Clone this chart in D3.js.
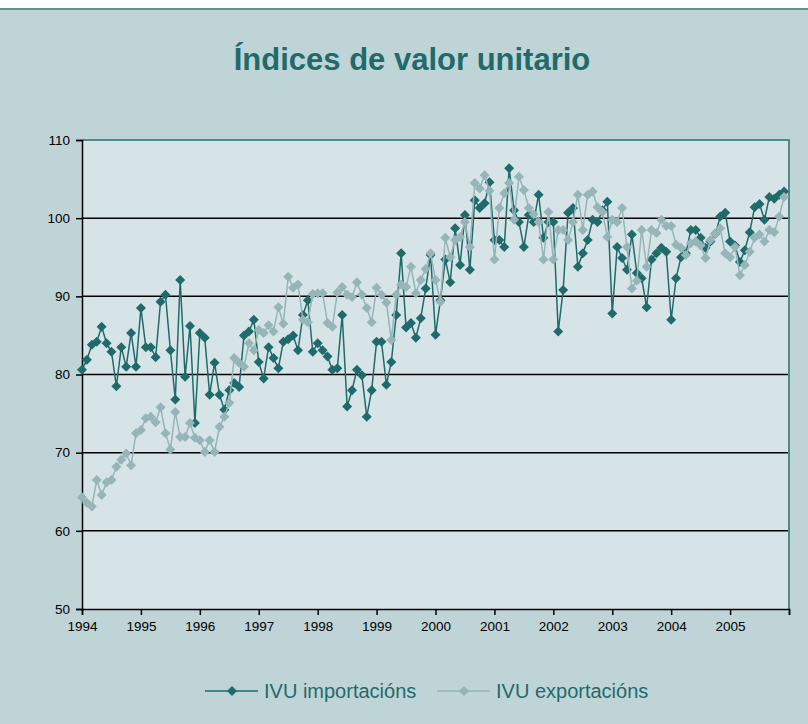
<!DOCTYPE html>
<html>
<head>
<meta charset="utf-8">
<script src="https://cdn.jsdelivr.net/npm/d3@7"></script>
<style>
  body { margin: 0; background: #ffffff; }
  svg { display: block; font-family: "Liberation Sans", Arial, sans-serif; }
</style>
</head>
<body>
<svg width="808" height="724"></svg>
<script>
// monthly values, Jan 1994 .. Dec 2005
var years = ["1994", "1995", "1996", "1997", "1998", "1999", "2000", "2001", "2002", "2003", "2004", "2005"];
var yTicks = [50, 60, 70, 80, 90, 100, 110];

var importacions = [
  80.6, 81.9, 83.8, 84.2, 86.1, 84.0, 82.9, 78.5, 83.5, 81.0, 85.3, 81.0,
  88.5, 83.5, 83.5, 82.2, 89.3, 90.2, 83.1, 76.8, 92.1, 79.7, 86.2, 73.8,
  85.3, 84.7, 77.4, 81.5, 77.4, 75.5, 78.0, 78.9, 78.4, 85.0, 85.5, 87.0,
  81.6, 79.5, 83.5, 82.1, 80.8, 84.2, 84.5, 85.0, 83.1, 87.6, 89.5, 82.9,
  84.0, 83.1, 82.3, 80.6, 80.8, 87.6, 75.9, 78.0, 80.6, 79.9, 74.6, 78.0,
  84.2, 84.2, 78.7, 81.6, 87.6, 95.5, 86.0, 86.6, 84.7, 87.2, 91.0, 95.3,
  85.1, 89.5, 94.7, 91.8, 98.7, 94.0, 100.4, 93.4, 102.3, 101.3, 101.9, 104.6,
  97.2, 97.2, 96.3, 106.4, 101.0, 99.5, 96.3, 100.4, 99.5, 103.0, 97.5, 99.5,
  99.5, 85.5, 90.8, 100.7, 101.3, 93.8, 95.5, 97.2, 99.8, 99.5, 101.0, 102.1,
  87.8, 96.3, 94.9, 93.4, 97.9, 93.0, 92.3, 88.6, 94.7, 95.5, 96.2, 95.7,
  87.0, 92.3, 95.0, 95.5, 98.5, 98.5, 97.5, 96.2, 97.0, 98.0, 100.2, 100.7,
  97.0, 96.5, 94.4, 95.9, 98.2, 101.4, 101.8, 99.8, 102.7, 102.5, 103.0, 103.4
];

var exportacions = [
  64.3, 63.6, 63.1, 66.5, 64.6, 66.2, 66.5, 68.2, 69.1, 69.9, 68.4, 72.5,
  72.9, 74.4, 74.6, 73.9, 75.8, 72.5, 70.4, 75.2, 72.0, 72.0, 73.8, 71.9,
  71.6, 70.1, 71.6, 70.1, 73.3, 74.6, 76.4, 82.1, 81.5, 81.0, 84.0, 83.1,
  85.7, 85.3, 86.3, 85.5, 88.6, 86.5, 92.5, 91.1, 91.5, 87.0, 86.7, 90.3,
  90.4, 90.4, 86.6, 86.1, 90.5, 91.2, 90.2, 89.9, 91.8, 90.2, 88.5, 86.7,
  91.1, 90.2, 89.2, 84.4, 90.2, 91.5, 91.2, 93.8, 90.4, 92.1, 93.5, 95.5,
  92.1, 89.3, 97.5, 95.0, 97.2, 97.6, 99.5, 96.3, 104.5, 103.8, 105.5, 103.5,
  94.7, 101.3, 103.2, 104.5, 99.8, 105.3, 103.6, 101.3, 100.5, 99.5, 94.7, 100.8,
  94.7, 98.5, 98.5, 97.2, 99.5, 103.0, 98.5, 103.0, 103.4, 101.4, 100.8, 97.6,
  99.8, 99.5, 101.3, 96.3, 91.0, 92.0, 98.5, 93.8, 98.5, 98.1, 99.8, 99.0,
  99.0, 96.6, 96.2, 95.3, 96.8, 97.0, 96.5, 94.9, 97.2, 98.0, 98.7, 95.5,
  95.0, 96.3, 92.7, 94.0, 95.7, 97.5, 97.9, 97.0, 98.5, 98.2, 100.2, 102.7
];

var darkCol = "#1f6b6b";
var lightCol = "#95b5b8";

var svg = d3.select("svg");

// background + thin teal rule on top
svg.append("rect").attr("width", 808).attr("height", 724).attr("fill", "#bfd4d7");
svg.append("rect").attr("width", 808).attr("height", 8).attr("fill", "#ffffff");
svg.append("rect").attr("y", 8).attr("width", 808).attr("height", 2).attr("fill", "#5a9393");

svg.append("text")
  .attr("x", 412).attr("y", 70)
  .attr("text-anchor", "middle")
  .attr("font-size", "31px")
  .attr("font-weight", "bold")
  .attr("fill", darkCol)
  .text("Índices de valor unitario");

var pLeft = 82, pRight = 789, pTop = 140, pBottom = 609;

var x = d3.scaleLinear().domain([0, 144]).range([pLeft, pRight]);
var y = d3.scaleLinear().domain([50, 110]).range([pBottom, pTop]);

// plot area
svg.append("rect")
  .attr("x", pLeft).attr("y", pTop)
  .attr("width", pRight - pLeft).attr("height", pBottom - pTop)
  .attr("fill", "#d7e4e7");

// gridlines
svg.append("g").selectAll("line")
  .data(yTicks.filter(function (d) { return d > 50 && d < 110; }))
  .enter().append("line")
  .attr("x1", pLeft).attr("x2", pRight)
  .attr("y1", function (d) { return y(d); })
  .attr("y2", function (d) { return y(d); })
  .attr("stroke", "#000").attr("stroke-width", 1.5);

// teal border on top and right
svg.append("path")
  .attr("d", "M" + pLeft + "," + pTop + "H" + pRight + "V" + pBottom)
  .attr("fill", "none").attr("stroke", "#4f8a8a").attr("stroke-width", 2);

// axes
var yAxis = svg.append("g")
  .attr("transform", "translate(" + pLeft + ",0)")
  .call(d3.axisLeft(y).tickValues(yTicks).tickSize(6).tickPadding(6));

var xAxis = svg.append("g")
  .attr("transform", "translate(0," + pBottom + ")")
  .call(d3.axisBottom(x)
    .tickValues(d3.range(0, 145, 12))
    .tickSize(6).tickPadding(6)
    .tickFormat(function (d) { return years[d / 12] || ""; }));

[xAxis, yAxis].forEach(function (a) {
  a.select(".domain").attr("stroke", "#000").attr("stroke-width", 1.5);
  a.selectAll(".tick line").attr("stroke", "#000").attr("stroke-width", 1.5);
  a.selectAll("text").attr("font-size", "13.5px").attr("fill", "#000")
    .attr("font-family", "'Liberation Sans', Arial, sans-serif");
});

var diamond = "M0,-5L5,0L0,5L-5,0Z";

function drawSeries(vals, col) {
  var line = d3.line()
    .x(function (d, i) { return x(i); })
    .y(function (d) { return y(d); });
  svg.append("path")
    .datum(vals)
    .attr("d", line)
    .attr("fill", "none")
    .attr("stroke", col)
    .attr("stroke-width", 1.5);
  svg.append("g").selectAll("path")
    .data(vals)
    .enter().append("path")
    .attr("d", diamond)
    .attr("transform", function (d, i) { return "translate(" + x(i) + "," + y(d) + ")"; })
    .attr("fill", col);
}

drawSeries(importacions, darkCol);
drawSeries(exportacions, lightCol);

// legend
var legend = [
  { name: "IVU importacións", col: darkCol, x0: 205 },
  { name: "IVU exportacións", col: lightCol, x0: 437 }
];
var lg = svg.append("g").selectAll("g")
  .data(legend)
  .enter().append("g")
  .attr("transform", function (d) { return "translate(" + d.x0 + ",691)"; });
lg.append("line")
  .attr("x1", 0).attr("x2", 53)
  .attr("stroke", function (d) { return d.col; }).attr("stroke-width", 1.5);
lg.append("path")
  .attr("d", diamond)
  .attr("transform", "translate(27,0)")
  .attr("fill", function (d) { return d.col; });
lg.append("text")
  .attr("x", 59).attr("y", 7)
  .attr("font-size", "20px")
  .attr("fill", darkCol)
  .text(function (d) { return d.name; });
</script>
</body>
</html>
